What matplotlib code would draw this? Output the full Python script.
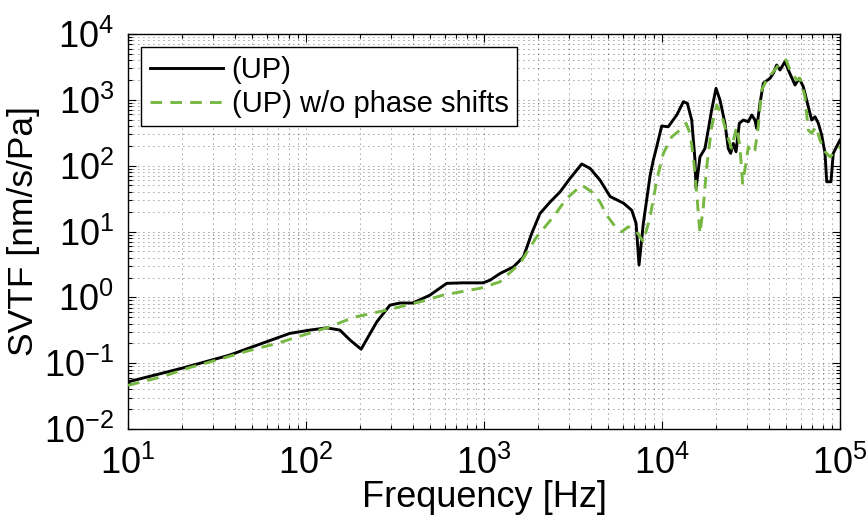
import matplotlib
matplotlib.use("Agg")
import matplotlib.pyplot as plt
from matplotlib.ticker import LogLocator, LogFormatterSciNotation, NullFormatter

plt.rcParams['font.family'] = ['Liberation Sans', 'DejaVu Sans']
plt.rcParams['mathtext.fontset'] = 'custom'
plt.rcParams['mathtext.rm'] = 'Liberation Sans'
plt.rcParams['mathtext.it'] = 'Liberation Sans:italic'
plt.rcParams['mathtext.default'] = 'regular'

# (UP)
freq_up = [10, 20.5, 37, 81, 105, 131, 155, 177, 204, 250, 296, 337, 399, 497, 617, 762, 987,
           1081, 1230, 1462, 1665, 1855, 2064, 2350, 2675, 3043, 3540, 3944, 4490, 5110, 6070,
           6765, 7150, 7430, 7855, 8570, 8940, 9340, 9960, 10840, 12100, 13190, 13880, 14690,
           15320, 15530, 16340, 17440, 19010, 20110, 21170, 22580, 23560, 24310, 25160, 26050,
           27190, 28630, 30550, 31920, 33290, 34030, 35530, 37080, 40440, 42210, 44080, 46020,
           49100, 51230, 55870, 59060, 62180, 66370, 69330, 72380, 75570, 78930, 82380, 84210,
           88990, 91650, 100000]
svtf_up = [0.052, 0.085, 0.132, 0.283, 0.318, 0.344, 0.318, 0.224, 0.163, 0.425, 0.76, 0.82, 0.82,
           1.08, 1.63, 1.66, 1.66, 1.82, 2.3, 2.9, 4.1, 9.4, 18.8, 28, 40, 64, 106, 91, 60, 34, 27,
           21, 13.3, 3.1, 13.3, 70, 122, 194, 400, 390, 588, 936, 885, 493, 122, 45, 136, 183,
           700, 1495, 994, 439, 183, 154, 218, 163, 440, 493, 465, 588, 493, 369, 885, 1782,
           2125, 2530, 3380, 2840, 3800, 2840, 1680, 2125, 1582, 785, 493, 553, 440, 292, 154,
           57, 57, 154, 245]

# (UP) w/o phase shifts
freq_np = [10, 15.8, 22.3, 32.9, 46.5, 68.5, 96.6, 136, 184, 284, 437, 588, 834, 951, 1230, 1592,
           1978, 2450, 2915, 3540, 4030, 4490, 4890, 5570, 5930, 6470, 7210, 7855, 8570, 9340,
           10180, 11350, 12630, 13650, 14370, 15000, 15670, 16340, 17070, 17830, 19010, 20290,
           21640, 23070, 24610, 26240, 27400, 28370, 29620, 30550, 31920, 33290, 34730, 36310,
           38730, 42210, 46020, 49770, 52370, 57150, 59600, 63530, 66370, 69330, 73280, 77220,
           82380, 87890, 93700, 100000]
svtf_np = [0.046, 0.063, 0.086, 0.115, 0.152, 0.199, 0.267, 0.356, 0.495, 0.64, 0.855, 1.08, 1.29,
           1.37, 1.72, 3.27, 8.3, 16.7, 31.8, 50.7, 40, 28, 17.7, 11, 9.9, 11.8, 9.9, 7, 16.5, 60,
           154, 275, 347, 440, 310, 136, 38, 9.3, 23.7, 96, 390, 834, 588, 310, 183, 390, 194, 54,
           108, 194, 154, 173, 390, 1410, 2000, 2675, 3590, 4030, 2840, 2000, 2120, 1115, 347,
           310, 390, 245, 163, 136, 163, 194]

labels = ['(UP)', '(UP) w/o phase shifts']

fig = plt.figure(figsize=(8.68, 5.21), dpi=100)
ax = fig.add_axes([128/868, 1 - 429/521, (840-128)/868, (429-34)/521])

ax.loglog(freq_up, svtf_up, color='black', linewidth=2.1, label=labels[0], zorder=3,
          solid_joinstyle='round')
ax.loglog(freq_np, svtf_np, color='#77b843', linewidth=2.1, linestyle=(0, (4, 2.8)),
          label=labels[1], zorder=3)

ax.set_xlim(10, 1e5)
ax.set_ylim(1e-2, 1e4)
ax.xaxis.set_major_locator(LogLocator(base=10, numticks=10))
ax.yaxis.set_major_locator(LogLocator(base=10, numticks=10))
ax.xaxis.set_minor_locator(LogLocator(base=10, subs=range(2, 10), numticks=50))
ax.yaxis.set_minor_locator(LogLocator(base=10, subs=range(2, 10), numticks=50))
ax.xaxis.set_major_formatter(LogFormatterSciNotation())
ax.yaxis.set_major_formatter(LogFormatterSciNotation())
ax.xaxis.set_minor_formatter(NullFormatter())
ax.yaxis.set_minor_formatter(NullFormatter())

ax.grid(which='both', color='black', linestyle=(0, (1, 5)), linewidth=0.6, alpha=0.75)
ax.tick_params(which='both', direction='in', top=True, right=True, labelsize=26, width=0.8)
ax.tick_params(which='major', length=6)
ax.tick_params(which='minor', length=3)
ax.tick_params(axis='x', which='major', pad=12)
ax.tick_params(axis='y', which='major', pad=10)
for s in ax.spines.values():
    s.set_linewidth(1.0)

ax.set_xlabel('Frequency [Hz]', fontsize=26, labelpad=-1)
ax.set_ylabel('SVTF [nm/s/Pa]', fontsize=25.5, labelpad=3)

leg = ax.legend(loc='upper left', fontsize=21, frameon=True, fancybox=False,
                edgecolor='black', borderpad=0.3, handlelength=2.5, labelspacing=0.2,
                borderaxespad=0.45, handletextpad=0.3)
leg.get_frame().set_linewidth(1.0)
leg.get_frame().set_alpha(1.0)

fig.savefig('out.png', dpi=100)
